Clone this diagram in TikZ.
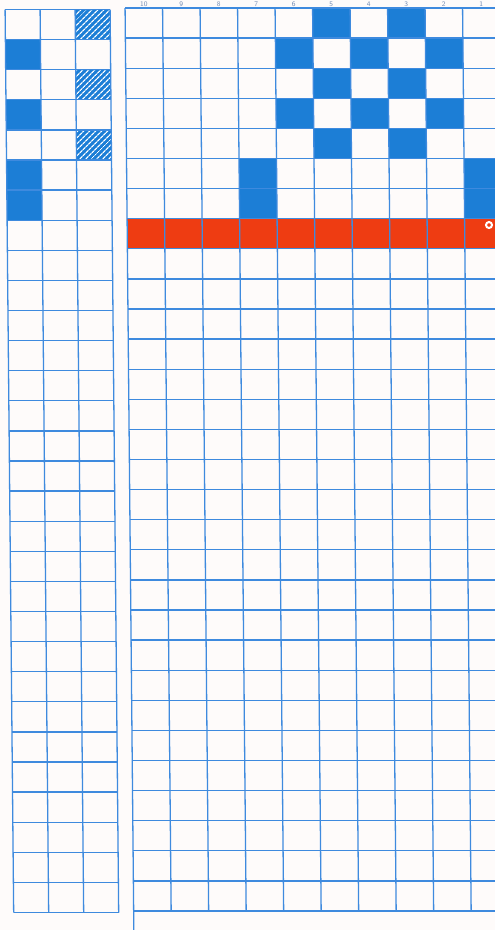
\documentclass[tikz,border=0pt]{standalone}
\usetikzlibrary{patterns.meta}
\definecolor{gridblue}{RGB}{62,138,222}
\definecolor{cellblue}{RGB}{28,126,214}
\definecolor{treadred}{RGB}{238,60,18}
\definecolor{numgray}{RGB}{115,140,180}
\definecolor{paper}{RGB}{254,251,250}
\tikzset{
  gridline/.style={gridblue, line width=1.3pt},
  numtext/.style={font=\sffamily\scriptsize, text=numgray, anchor=base, inner sep=0pt},
  hatchcell/.style={pattern={Lines[angle=45,distance=4pt,line width=1.3pt]}, pattern color=white}
}
\begin{document}
\begin{tikzpicture}[x=1pt,y=-1pt]
% Page size
\def\W{495}
\def\H{930}
% Draft grid (right)
\def\mx{125}
\def\my{8}
\def\mw{37.5}
\def\rh{30.1}
% Treadling grid (left)
\def\tx{5}
\def\ty{9.5}
\def\tw{35}
\useasboundingbox (0,0) rectangle (\W,\H);
\fill[paper] (0,0) rectangle (\W,\H);
\clip (0,0) rectangle (\W,\H);
% Column numbers above the draft
\foreach \n in {1,...,10} {
  \node[numtext] (num\n) at ({\mx+(10-\n+0.5)*\mw},6.6) {\n};
}
\begin{scope}[xslant=-0.0095]
% Draft cells
\foreach \c/\r in {5/0,7/0,4/1,6/1,8/1,5/2,7/2,4/3,6/3,8/3,5/4,7/4,3/5,3/6,9/5,9/6} {
  \fill[cellblue] ({\mx+\c*\mw},{\my+\r*\rh}) rectangle ++(\mw,\rh);
}
% Red row
\fill[treadred] (\mx,{\my+7*\rh}) rectangle ++({10*\mw},\rh);
% Draft grid lines
\foreach \i in {0,...,10} {
  \draw[gridline] ({\mx+\i*\mw},\my) -- ++(0,{30*\rh});
}
\foreach \j in {0,...,30} {
  \draw[gridline] (\mx,{\my+\j*\rh}) -- ++({10*\mw},0);
}
\draw[gridline] (\mx,{\my+30*\rh}) -- (\mx,{\H+5});
% Treadling cells
\foreach \r in {1,3,5,6} {
  \fill[cellblue] (\tx,{\ty+\r*\rh}) rectangle ++(\tw,\rh);
}
\foreach \r in {0,2,4} {
  \fill[cellblue] ({\tx+2*\tw},{\ty+\r*\rh}) rectangle ++(\tw,\rh);
  \fill[hatchcell] ({\tx+2*\tw},{\ty+\r*\rh}) rectangle ++(\tw,\rh);
}
% Treadling grid lines
\foreach \i in {0,...,3} {
  \draw[gridline] ({\tx+\i*\tw},\ty) -- ++(0,{30*\rh});
}
\foreach \j in {0,...,30} {
  \draw[gridline] (\tx,{\ty+\j*\rh}) -- ++({3*\tw},0);
}
\end{scope}
% Small white ring on the red row
\draw[white, line width=2pt] (489,225) circle (3pt);
\end{tikzpicture}
\end{document}
